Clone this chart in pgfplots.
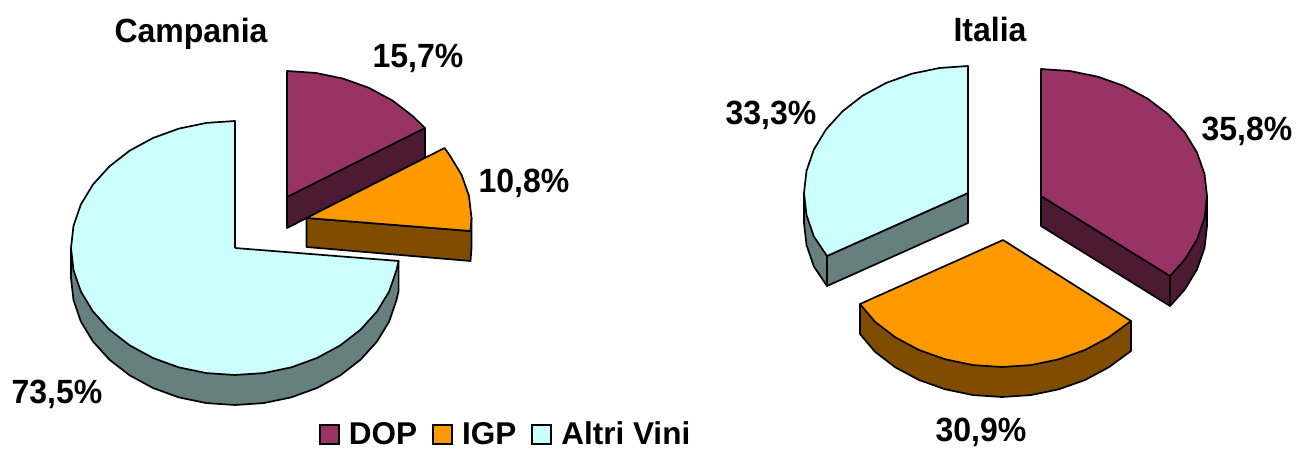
\documentclass[border=0pt]{standalone}
\usepackage{fontspec}
\setmainfont{Liberation Sans}
\usepackage{graphicx}
\usepackage{pgfplots}
\pgfplotsset{compat=1.18}

\definecolor{dop}{HTML}{993366}
\definecolor{dopdark}{HTML}{4D1A33}
\definecolor{igp}{HTML}{FF9900}
\definecolor{igpdark}{HTML}{804D00}
\definecolor{altri}{HTML}{CCFFFF}
\definecolor{altridark}{HTML}{668080}

\pgfplotsset{
    face/.style={draw=black, line width=0.85pt, line join=round, fill=#1, forget plot},
}
\tikzset{
    lab/.style={font=\fontsize{16}{18}\selectfont\bfseries, inner sep=0pt},
}
\newcommand{\tall}[1]{\scalebox{1}[1.05]{#1}}

\begin{document}
\begin{tikzpicture}
\begin{axis}[
    scale only axis,
    width=648pt, height=223pt,
    xmin=0, xmax=1296,
    ymin=0, ymax=446,
    y dir=reverse,
    hide axis,
    clip=false,
    no markers,
    legend columns=3,
    legend cell align=left,
    legend style={
        at={(axis cs:506.5,435)}, anchor=center, draw=none, fill=none,
        font=\fontsize{15.75}{18}\selectfont\bfseries,
        inner sep=0pt, outer sep=0pt,
        /tikz/every odd column/.append style={column sep=2.5pt},
        /tikz/every even column/.append style={column sep=5.5pt},
    },
    legend image code/.code={
        \draw[#1, line width=1pt] (0pt,-4.5pt) rectangle (9.5pt,5pt);
    },
]
% keep the page as large as the whole frame
\path (axis cs:0,0) rectangle (axis cs:1296,446);
% Campania: Altri Vini
\addplot[face=altridark] coordinates {
    (71,248)(71,278)(73.5,300.1)(80.8,321.4)(93,341.5)(109.4,359.6)(129.6,375.3)
    (153,388)(178.9,397.4)(206.5,403.1)(235,405)(263.5,403.1)(291.1,397.4)(317,388)
    (340.4,375.3)(360.6,359.6)(377,341.5)(389.2,321.4)(396.5,300.1)(398.6,291)
    (398.6,261)(71,248)
};
\addplot[face=altri] coordinates {
    (235,248)(235,121)(206.5,122.9)(178.9,128.6)(153,138)(129.6,150.7)(109.4,166.4)
    (93,184.5)(80.8,204.6)(73.5,225.9)(71,248)(73.5,270.1)(80.8,291.4)(93,311.5)
    (109.4,329.6)(129.6,345.3)(153,358)(178.9,367.4)(206.5,373.1)(235,375)(263.5,373.1)
    (291.1,367.4)(317,358)(340.4,345.3)(360.6,329.6)(377,311.5)(389.2,291.4)(396.5,270.1)
    (398.6,261)(235,248)
};
% Campania: DOP
\addplot[face=dopdark] coordinates {
    (287,197)(287,228)(425,158)(425,128)(287,197)
};
\addplot[face=dop] coordinates {
    (287,197)(287,71)(315.5,72.9)(343.1,78.6)(369,87.9)(392.4,100.5)(412.6,116)(425,128)(287,197)
};
% Campania: IGP
\addplot[face=igpdark] coordinates {
    (306.5,218)(306.5,247)(470.5,261)(471.5,248)(471.5,218)(470.5,231)(306.5,218)
};
\addplot[face=igp] coordinates {
    (306.5,218)(444.5,148)(449.5,155)(461.6,174.9)(469,196.1)(471.5,218)(470.5,231)(306.5,218)
};
% Italia: DOP
\addplot[face=dopdark] coordinates {
    (1170,276)(1170,306)(1184.8,289.5)(1197,269.4)(1204.5,248.1)(1207,226)(1207,196)(1170,276)
};
\addplot[face=dopdark] coordinates {
    (1041,196)(1041,226)(1170,306)(1170,276)(1041,196)
};
\addplot[face=dop] coordinates {
    (1041,196)(1041,69)(1069.8,71)(1097.8,76.7)(1124,86)(1147.7,98.7)(1168.2,114.4)
    (1184.8,132.5)(1197,152.6)(1204.5,173.9)(1207,196)(1204.5,218.1)(1197,239.4)
    (1184.8,259.5)(1170,276)(1041,196)
};
% Italia: IGP
\addplot[face=igpdark] coordinates {
    (860,304)(860,334)(874.8,351.6)(895.3,367.3)(919,380)(945.2,389.3)(973.2,395.1)
    (1002,397)(1030.8,395.1)(1058.8,389.3)(1085,380)(1108.7,367.3)(1131,351)(1131,321)(860,304)
};
\addplot[face=igp] coordinates {
    (1003,240)(1131,321)(1108.7,337.3)(1085,350)(1058.8,359.3)(1030.8,365.1)(1002,367)
    (973.2,365.1)(945.2,359.3)(919,350)(895.3,337.3)(874.8,321.6)(860,304)(1003,240)
};
% Italia: Altri Vini
\addplot[face=altridark] coordinates {
    (804,193)(804,223)(806.5,245)(813.8,266.4)(827,286)(827,256)(804,193)
};
\addplot[face=altridark] coordinates {
    (968,193)(968,223)(827,286)(827,256)(968,193)
};
\addplot[face=altri] coordinates {
    (968,193)(968,66)(939.5,68)(911.9,73.7)(886,83)(862.6,95.7)(842.4,111.4)(826,129.5)
    (813.8,149.6)(806.5,170.9)(804,193)(806.5,215)(813.8,236.4)(827,256)(968,193)
};
% legend
\addlegendimage{fill=dop, draw=black}
\addlegendentry{DOP}
\addlegendimage{fill=igp, draw=black}
\addlegendentry{IGP}
\addlegendimage{fill=altri, draw=black}
\addlegendentry{Altri Vini}
% titles and value labels
\node[lab] at (axis cs:191,34) {\tall{Campania}};
\node[lab] at (axis cs:418,58) {\tall{15,7\%}};
\node[lab] at (axis cs:524,183) {\tall{10,8\%}};
\node[lab] at (axis cs:57,394) {\tall{73,5\%}};
\node[lab] at (axis cs:990,29.5) {\tall{Italia}};
\node[lab] at (axis cs:771,115) {\tall{33,3\%}};
\node[lab] at (axis cs:1247,131) {\tall{35,8\%}};
\node[lab] at (axis cs:981,432) {\tall{30,9\%}};
\end{axis}
\end{tikzpicture}
\end{document}
